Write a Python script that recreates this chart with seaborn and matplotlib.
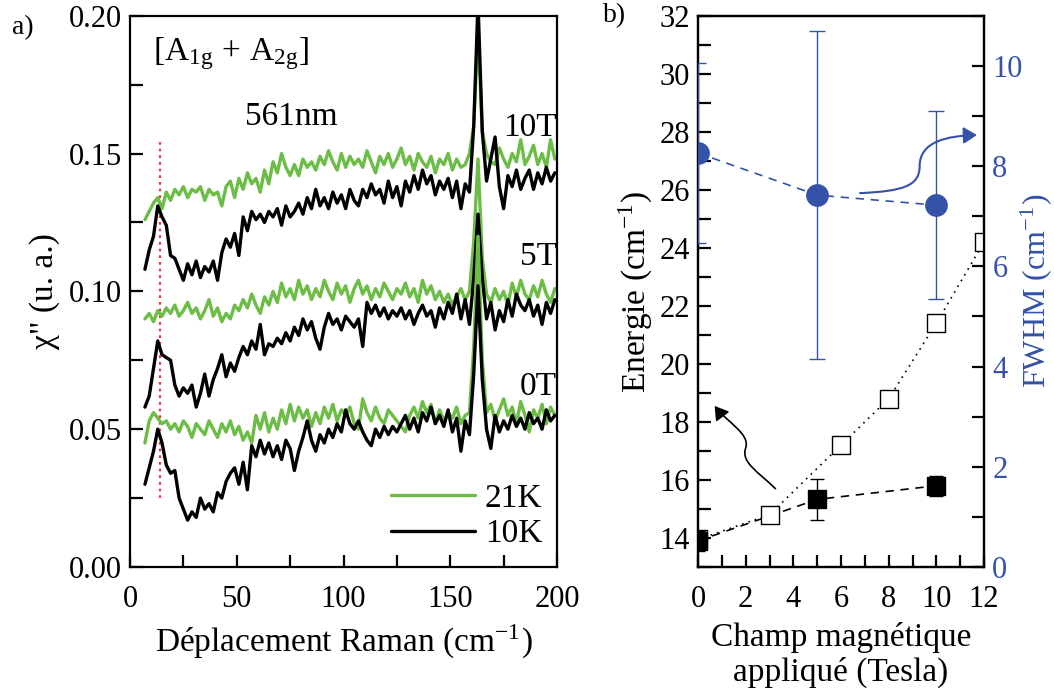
import numpy as np
import pandas as pd
import matplotlib
matplotlib.use("Agg")
import matplotlib.pyplot as plt
import seaborn as sns
from matplotlib.lines import Line2D
from matplotlib.patches import FancyArrowPatch
from matplotlib.path import Path
from matplotlib.ticker import MultipleLocator

# ---------------- data: panel a ----------------
raman_shift = np.arange(7, 200, 2)  # cm-1, 7..199

g10 = [0.126, 0.129, 0.132, 0.134, 0.130, 0.136, 0.133, 0.137, 0.135, 0.138,
       0.134, 0.137, 0.136, 0.138, 0.133, 0.137, 0.135, 0.136, 0.131, 0.138,
       0.140, 0.134, 0.141, 0.137, 0.143, 0.139, 0.141, 0.136, 0.144, 0.139,
       0.147, 0.143, 0.150, 0.145, 0.142, 0.146, 0.142, 0.148, 0.145, 0.147,
       0.144, 0.149, 0.146, 0.151, 0.147, 0.144, 0.150, 0.145, 0.149, 0.146,
       0.148, 0.145, 0.151, 0.147, 0.143, 0.149, 0.146, 0.150, 0.145, 0.148,
       0.152, 0.146, 0.149, 0.144, 0.150, 0.147, 0.145, 0.149, 0.143, 0.148,
       0.146, 0.150, 0.144, 0.148, 0.145, 0.146, 0.150, 0.160, 0.195, 0.158,
       0.150, 0.147, 0.146, 0.152, 0.148, 0.145, 0.150, 0.147, 0.155, 0.146,
       0.149, 0.153, 0.146, 0.150, 0.145, 0.155, 0.148]
b10 = [0.108, 0.115, 0.120, 0.131, 0.127, 0.124, 0.113, 0.112, 0.108, 0.104,
       0.110, 0.106, 0.111, 0.105, 0.109, 0.107, 0.111, 0.104, 0.114, 0.119,
       0.116, 0.121, 0.113, 0.127, 0.122, 0.129, 0.126, 0.128, 0.125, 0.129,
       0.127, 0.130, 0.124, 0.131, 0.127, 0.129, 0.132, 0.128, 0.134, 0.130,
       0.137, 0.131, 0.134, 0.130, 0.136, 0.132, 0.135, 0.130, 0.137, 0.133,
       0.131, 0.137, 0.134, 0.139, 0.135, 0.137, 0.132, 0.140, 0.134, 0.138,
       0.131, 0.140, 0.136, 0.142, 0.137, 0.144, 0.139, 0.142, 0.135, 0.140,
       0.137, 0.141, 0.134, 0.140, 0.130, 0.139, 0.136, 0.160, 0.205, 0.158,
       0.140, 0.148, 0.156, 0.138, 0.130, 0.142, 0.138, 0.144, 0.137, 0.141,
       0.144, 0.137, 0.143, 0.139, 0.145, 0.140, 0.143]
g5 = [0.090, 0.092, 0.089, 0.093, 0.091, 0.094, 0.092, 0.095, 0.091, 0.093,
      0.096, 0.092, 0.094, 0.090, 0.093, 0.097, 0.091, 0.094, 0.089, 0.092,
      0.090, 0.095, 0.093, 0.097, 0.094, 0.099, 0.095, 0.092, 0.098, 0.095,
      0.100, 0.096, 0.103, 0.098, 0.101, 0.097, 0.104, 0.099, 0.102, 0.097,
      0.101, 0.098, 0.104, 0.100, 0.097, 0.103, 0.099, 0.102, 0.096, 0.101,
      0.104, 0.099, 0.102, 0.097, 0.101, 0.098, 0.103, 0.100, 0.097, 0.101,
      0.099, 0.103, 0.098, 0.101, 0.096, 0.104, 0.099, 0.102, 0.097, 0.100,
      0.096, 0.099, 0.095, 0.098, 0.101, 0.097, 0.100, 0.118, 0.148, 0.112,
      0.099, 0.096, 0.101, 0.097, 0.100, 0.095, 0.103, 0.098, 0.104, 0.099,
      0.097, 0.102, 0.098, 0.104, 0.099, 0.096, 0.101]
b5 = [0.058, 0.062, 0.072, 0.082, 0.077, 0.076, 0.075, 0.066, 0.062, 0.065,
      0.063, 0.066, 0.058, 0.063, 0.070, 0.062, 0.068, 0.072, 0.077, 0.069,
      0.074, 0.071, 0.076, 0.080, 0.077, 0.082, 0.079, 0.088, 0.077, 0.081,
      0.080, 0.083, 0.081, 0.085, 0.082, 0.087, 0.084, 0.090, 0.086, 0.089,
      0.083, 0.079, 0.087, 0.092, 0.088, 0.090, 0.086, 0.091, 0.089, 0.087,
      0.090, 0.080, 0.096, 0.092, 0.095, 0.091, 0.094, 0.090, 0.093, 0.091,
      0.094, 0.090, 0.093, 0.088, 0.092, 0.095, 0.091, 0.093, 0.087, 0.094,
      0.090, 0.096, 0.092, 0.099, 0.090, 0.097, 0.088, 0.105, 0.128, 0.105,
      0.090, 0.096, 0.086, 0.093, 0.089, 0.097, 0.091, 0.099, 0.095, 0.093,
      0.097, 0.091, 0.095, 0.088, 0.096, 0.092, 0.097]
g0 = [0.045, 0.053, 0.056, 0.054, 0.052, 0.053, 0.050, 0.052, 0.049, 0.053,
      0.051, 0.047, 0.052, 0.050, 0.048, 0.053, 0.050, 0.047, 0.052, 0.049,
      0.053, 0.048, 0.051, 0.046, 0.049, 0.045, 0.055, 0.050, 0.056, 0.049,
      0.054, 0.050, 0.057, 0.052, 0.059, 0.053, 0.058, 0.054, 0.057, 0.051,
      0.056, 0.052, 0.058, 0.054, 0.059, 0.053, 0.057, 0.055, 0.058, 0.052,
      0.050, 0.061, 0.056, 0.053, 0.058, 0.054, 0.052, 0.057, 0.055, 0.053,
      0.051, 0.049, 0.055, 0.058, 0.054, 0.060, 0.056, 0.059, 0.052, 0.057,
      0.053, 0.056, 0.054, 0.058, 0.052, 0.055, 0.056, 0.080, 0.120, 0.075,
      0.056, 0.059, 0.053, 0.057, 0.061, 0.055, 0.058, 0.052, 0.060, 0.055,
      0.049, 0.057, 0.054, 0.059, 0.052, 0.058, 0.055]
b0 = [0.030, 0.036, 0.042, 0.050, 0.045, 0.037, 0.034, 0.035, 0.025, 0.021,
      0.017, 0.020, 0.018, 0.025, 0.021, 0.023, 0.020, 0.027, 0.025, 0.031,
      0.034, 0.036, 0.030, 0.038, 0.028, 0.044, 0.040, 0.046, 0.041, 0.045,
      0.040, 0.044, 0.039, 0.046, 0.043, 0.035, 0.042, 0.047, 0.053, 0.046,
      0.042, 0.048, 0.045, 0.050, 0.047, 0.052, 0.049, 0.057, 0.052, 0.050,
      0.053, 0.049, 0.046, 0.044, 0.050, 0.047, 0.051, 0.048, 0.051, 0.049,
      0.052, 0.055, 0.050, 0.054, 0.049, 0.056, 0.053, 0.058, 0.052, 0.055,
      0.051, 0.057, 0.049, 0.054, 0.042, 0.053, 0.048, 0.070, 0.102, 0.068,
      0.050, 0.043, 0.055, 0.049, 0.053, 0.050, 0.055, 0.051, 0.054, 0.050,
      0.056, 0.052, 0.054, 0.050, 0.057, 0.053, 0.055]

field_labels = ["10T", "5T", "0T"]
temp_labels = ["21K", "10K"]
mode_position = 14  # red dotted marker line (cm-1)

# ---------------- data: panel b ----------------
field_open = [0, 3, 6, 8, 10, 12]
energy_open = [13.95, 14.8, 17.2, 18.8, 21.4, 24.2]
field_filled = [0, 5, 10]
energy_filled = [13.9, 15.33, 15.8]
energy_filled_err = [0.35, 0.7, 0.35]
field_fwhm = [0, 5, 10]
fwhm = [8.26, 7.42, 7.22]
fwhm_err = [1.79, 3.27, 1.87]

GREEN = "#6cbd45"
BLUE = "#3352a8"

sns.set_theme(style="ticks")
plt.rcParams['font.family'] = ['Liberation Serif', 'DejaVu Serif']
plt.rcParams['mathtext.fontset'] = 'stix'
plt.rcParams['axes.linewidth'] = 1.6
plt.rcParams['xtick.direction'] = 'in'
plt.rcParams['ytick.direction'] = 'in'
for k in ['text.color', 'axes.labelcolor', 'xtick.color', 'ytick.color', 'axes.edgecolor']:
    plt.rcParams[k] = 'black'

fig = plt.figure(figsize=(10.54, 6.96), dpi=100)
axa = fig.add_axes([130/1054, 1-567/696, (557-130)/1054, (567-15.7)/696])
axb = fig.add_axes([698/1054, 1-567/696, (984-698)/1054, (567-15.7)/696])

TICK_FS = 22
LABEL_FS = 24
ANN_FS = 24

# ---------- panel a ----------
for g, b in [(g10, b10), (g5, b5), (g0, b0)]:
    sns.lineplot(x=raman_shift, y=g, ax=axa, color=GREEN, lw=2.4, legend=False)
    sns.lineplot(x=raman_shift, y=b, ax=axa, color="black", lw=2.4, legend=False)

axa.plot([mode_position, mode_position], [0.025, 0.154], color="#ee3333", lw=1.6,
         ls=(0, (1.2, 1.8)), zorder=1)

axa.set_xlim(0, 200)
axa.set_ylim(0, 0.2)
axa.xaxis.set_major_locator(MultipleLocator(50))
axa.xaxis.set_minor_locator(MultipleLocator(25))
axa.yaxis.set_major_locator(MultipleLocator(0.05))
axa.yaxis.set_minor_locator(MultipleLocator(0.025))
axa.yaxis.set_major_formatter(matplotlib.ticker.FormatStrFormatter('%.2f'))
axa.tick_params(which='both', direction='in', width=1.6, labelsize=TICK_FS,
                top=False, right=False, colors='black', length=9)
axa.tick_params(axis='y', which='major', pad=6)
axa.tick_params(axis='x', which='major', pad=13)
axa.set_xlabel(r"Déplacement Raman (cm$^{\mathregular{-1}}$)", fontsize=LABEL_FS, labelpad=6)
axa.set_ylabel('χ" (u. a.)', fontsize=LABEL_FS, labelpad=6)

axa.text(0.055, 0.965, r"[A$_{\mathregular{1g}}$ + A$_{\mathregular{2g}}$]", transform=axa.transAxes,
         fontsize=ANN_FS, va='top', ha='left')
axa.text(0.27, 0.845, "561nm", transform=axa.transAxes, fontsize=ANN_FS, va='top', ha='left')
for lab, ypos in zip(field_labels, [0.825, 0.59, 0.355]):
    axa.text(1.0, ypos, lab, transform=axa.transAxes, fontsize=ANN_FS, va='top', ha='right')

handles = [Line2D([], [], color=GREEN, lw=2.4), Line2D([], [], color="black", lw=2.4)]
axa.legend(handles, temp_labels, loc='lower right', frameon=False, fontsize=ANN_FS,
           handlelength=2.5, handletextpad=0.3, labelspacing=0.15,
           bbox_to_anchor=(1.02, -0.01), borderaxespad=0.3)

fig.text(12/1054, 1-28/696, "a)", fontsize=20, va='center', ha='left')
fig.text(603/1054, 1-16/696, "b)", fontsize=20, va='center', ha='left')

# ---------- panel b ----------
sns.lineplot(x=field_open, y=energy_open, ax=axb, color='black', lw=1.2,
             ls=(0, (1, 3)), legend=False)
sns.scatterplot(x=field_open, y=energy_open, ax=axb, marker='s', s=150,
                facecolor='white', edgecolor='black', linewidth=1.0, zorder=3, legend=False)
sns.lineplot(x=field_filled, y=energy_filled, ax=axb, color='black', lw=1.2,
             ls=(0, (5, 4)), legend=False)
axb.errorbar(field_filled, energy_filled, yerr=energy_filled_err, fmt='none',
             ecolor='black', elinewidth=1.0, capsize=5, capthick=1.0, zorder=3)
sns.scatterplot(x=field_filled, y=energy_filled, ax=axb, marker='s', s=150,
                color='black', edgecolor='black', zorder=4, legend=False)

axb.set_xlim(0, 12)
axb.set_ylim(13, 32)
axb.xaxis.set_major_locator(MultipleLocator(2))
axb.xaxis.set_minor_locator(MultipleLocator(1))
axb.yaxis.set_major_locator(MultipleLocator(2))
axb.yaxis.set_minor_locator(MultipleLocator(1))
axb.tick_params(which='both', direction='in', width=1.6, labelsize=TICK_FS,
                top=False, right=False, colors='black', length=9)
axb.tick_params(axis='y', which='major', pad=6)
axb.tick_params(axis='x', which='major', pad=13)
axb.set_ylabel(r"Energie (cm$^{\mathregular{-1}}$)", fontsize=LABEL_FS, labelpad=4)
axb.set_xlabel("Champ magnétique\nappliqué (Tesla)", fontsize=LABEL_FS, labelpad=6,
               linespacing=1.15)

ax2 = axb.twinx()
sns.lineplot(x=field_fwhm, y=fwhm, ax=ax2, color=BLUE, lw=1.2, ls=(0, (5, 4)), legend=False)
ax2.errorbar(field_fwhm, fwhm, yerr=fwhm_err, fmt='none', ecolor=BLUE, elinewidth=1.0,
             capsize=6, capthick=1.0, zorder=3)
sns.scatterplot(x=field_fwhm, y=fwhm, ax=ax2, marker='o', s=230, color=BLUE,
                edgecolor=BLUE, zorder=4, legend=False)
ax2.set_ylim(0, 11)
ax2.yaxis.set_major_locator(MultipleLocator(2))
ax2.yaxis.set_minor_locator(MultipleLocator(1))
ax2.tick_params(which='both', direction='in', width=1.6, length=9, labelsize=TICK_FS,
                labelcolor=BLUE, color='black', pad=6)
ax2.set_ylabel(r"FWHM (cm$^{\mathregular{-1}}$)", fontsize=23, color=BLUE, labelpad=-3)
for s in list(axb.spines.values()) + list(ax2.spines.values()):
    s.set_color('black')
    s.set_linewidth(1.6)

# curved annotation arrows
blue_path = Path([(6.8, 7.46), (8.6, 7.5), (9.3, 7.6), (9.3, 8.0),
                  (9.3, 8.5), (10.5, 8.6), (11.7, 8.62)],
                 [Path.MOVETO, Path.CURVE4, Path.CURVE4, Path.CURVE4,
                  Path.CURVE4, Path.CURVE4, Path.CURVE4])
ax2.add_patch(FancyArrowPatch(path=blue_path, arrowstyle='-|>,head_length=8,head_width=5',
                              color=BLUE, lw=1.5, transform=ax2.transData, clip_on=False))
black_path = Path([(3.25, 15.7), (2.5, 16.3), (1.8, 16.6), (2.0, 17.1),
                   (2.2, 17.6), (1.2, 18.0), (0.7, 18.55)],
                  [Path.MOVETO, Path.CURVE4, Path.CURVE4, Path.CURVE4,
                   Path.CURVE4, Path.CURVE4, Path.CURVE4])
axb.add_patch(FancyArrowPatch(path=black_path, arrowstyle='-|>,head_length=8,head_width=5',
                              color='black', lw=1.2, transform=axb.transData))

fig.savefig("out.png", dpi=100)
